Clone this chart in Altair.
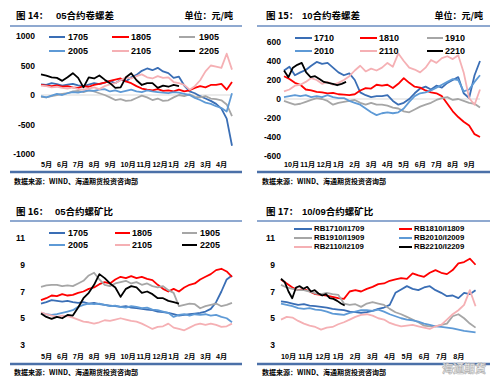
import altair as alt
import numpy as np
import pandas as pd

# ================= DATA =================
# Panel 14: 05合约卷螺差 (元/吨); x = months since start of 5月
P1_MONTHS = ["5月", "6月", "7月", "8月", "9月", "10月", "11月", "12月", "1月", "2月", "3月", "4月"]
P1_NAMES = ["1705", "1805", "1905", "2005", "2105", "2205"]
P1_1705 = [180, 170, 200, 185, 160, 175, 190, 165, 150, 175, 200, 185, 210, 240, 200, 260, 230, 300, 340, 410,
           450, 420, 460, 400, 370, 290, 310, 160, 60, 30, -20, -60, -100, -150, -230, -400, -860]
P1_1805 = [170, 160, 150, 165, 140, 150, 130, 120, 150, 140, 170, 190, 210, 240, 260, 280, 230, 200, 150, 110,
           90, 80, 100, 70, 80, 60, 90, 60, 80, 120, 150, 130, 170, 170, 190, 90, 220]
P1_1905 = [-30, -40, -20, 0, 20, 30, 60, 70, 50, 80, 60, 30, 0, -40, -85, -70, -100, -90, -50, -10,
           -40, -85, -60, -100, -90, -40, 0, -20, 10, -30, -40, -20, -60, -70, -90, -160, -360]
P1_2005 = [-20, -40, -10, 20, 0, 30, 50, 40, 60, 80, 70, 90, 100, 60, 80, 50, 70, 90, 60, 50,
           80, 60, 50, 40, 30, 50, 40, 20, 0, -50, -85, -130, -150, -190, -220, -280, 30]
P1_2105 = [160, 150, 130, 140, 120, 110, 130, 100, 90, 110, 130, 100, 150, 180, 200, 250, 300, 280, 320, 350,
           300, 280, 320, 290, 300, 220, 200, 170, 90, 150, 250, 400, 500, 480, 460, 700, 430]
P1_2205 = [350, 330, 300, 290, 240, 300, 370, 290, 130, 300, 280, 330, 260, 200, 120, 130, 300, 370, 250, 170,
           200, 200, 120, 160, 140, 170, 150]
P1_END = [12, 12, 12, 12, 12, 8.67]

# Panel 15: 10合约卷螺差 (元/吨); x = months since start of 10月
P2_MONTHS = ["10月", "11月", "12月", "1月", "2月", "3月", "4月", "5月", "6月", "7月", "8月", "9月"]
P2_NAMES = ["1710", "1810", "1910", "2010", "2110", "2210"]
P2_1710 = [300, 340, 250, 280, 305, 350, 390, 370, 380, 330, 280, 250, 270, 200, 70, 40, 20, 30, 30, 40,
           -20, -60, -40, 0, 60, 110, 130, 100, 140, 120, 170, 200, 230, 60, 10, 250, 400]
P2_1810 = [240, 210, 170, 150, 100, 90, 75, 70, 60, 65, 50, 45, 40, 50, 90, 115, 110, 150, 140, 150,
           115, 160, 220, 170, 130, 120, 90, 70, 60, 30, -50, -130, -190, -240, -280, -370, -400]
P2_1910 = [-20, -40, -60, -50, -30, -10, 10, 0, -20, -60, -40, -30, -20, -10, -40, -60, -40, -60, -60, -70,
           -90, -100, -130, -140, -110, -80, -60, -40, -10, 10, 20, -10, 0, -20, -40, -50, -90]
P2_2010 = [20, 30, 40, 30, 40, 20, 30, 20, 40, 20, 10, 10, -20, -40, -60, -100, -140, -170, -150, -140,
           -150, -140, -100, -30, 30, 60, 70, 90, 120, 150, 180, 210, 200, 80, 100, 180, 250]
P2_2110 = [80, 100, 140, 150, 180, 220, 200, 160, 180, 150, 170, 200, 240, 300, 350, 290, 320, 300, 330, 380,
           340, 480, 400, 330, 310, 280, 330, 410, 380, 430, 450, 420, 460, 280, 10, -60, 100]
P2_2210 = [300, 230, 330, 360, 380, 280, 230, 240, 210, 180, 170, 160, 145, 160, 180]
P2_END = [12, 12, 12, 12, 12, 3.8]

# Panel 16: 05合约螺矿比; x = months since start of 5月
P3_NAMES = ["1705", "1805", "1905", "2005", "2105", "2205"]
P3_1705 = [6.1, 6.2, 6.35, 6.3, 6.25, 6.3, 6.2, 6.15, 6.2, 6.1, 6.15, 6.05, 6.0, 5.95, 5.9, 5.85, 5.9, 5.8, 5.75, 5.7,
           5.65, 5.6, 5.5, 5.45, 5.4, 5.3, 5.2, 5.25, 5.3, 5.35, 5.4, 5.5, 5.7, 6.2, 7.0, 7.9, 8.2]
P3_1805 = [6.35, 6.5, 6.7, 6.65, 6.8, 6.7, 6.75, 6.9, 7.0, 7.2, 7.3, 7.55, 7.7, 7.6, 7.9, 8.1, 8.0, 8.15, 8.0, 8.1,
           7.95, 7.85, 7.5, 7.2, 7.0, 7.2, 7.0, 7.3, 7.5, 7.6, 7.9, 8.1, 8.3, 8.6, 8.7, 8.5, 8.1]
P3_1905 = [7.35, 7.45, 7.5, 7.5, 7.4, 7.45, 7.4, 7.6, 7.8, 8.2, 8.4, 7.9, 7.5, 7.4, 7.6, 7.7, 7.8, 7.6, 7.7, 7.5,
           7.6, 7.4, 7.3, 7.4, 7.1, 6.9, 5.9, 6.0, 6.1, 6.05, 5.75, 5.9, 6.0, 6.1, 5.9, 6.0, 6.15]
P3_2005 = [5.4, 5.3, 5.25, 5.3, 5.4, 5.5, 5.6, 5.85, 6.0, 6.1, 6.05, 6.1, 6.0, 5.9, 5.95, 5.85, 5.8, 5.9, 5.85, 5.75,
           5.8, 5.65, 5.6, 5.5, 5.4, 5.1, 5.25, 5.3, 5.2, 5.3, 5.25, 5.3, 5.2, 5.25, 5.1, 5.0, 4.7]
P3_2105 = [5.45, 5.3, 5.2, 5.1, 5.2, 5.15, 5.05, 4.9, 4.75, 4.7, 4.6, 4.7, 4.85, 4.8, 4.9, 5.0, 4.9, 4.8, 4.75, 4.6,
           4.4, 4.2, 4.35, 4.4, 4.6, 4.3, 4.2, 4.1, 4.3, 4.5, 4.6, 4.5, 4.6, 4.5, 4.35, 4.4, 4.6]
P3_2205 = [5.35, 5.1, 4.95, 5.1, 5.0, 5.25, 5.2, 5.8, 6.5, 6.9, 7.5, 8.3, 8.0, 7.6, 7.3, 6.6, 7.2, 7.4, 7.3, 6.9,
           7.0, 6.8, 6.5, 6.5, 6.3, 6.2, 6.1]
P3_END = [12, 12, 12, 12, 12, 8.67]

# Panel 17: 10/09合约螺矿比; x = months since start of 10月
P4_MONTHS = ["10月", "11月", "12月", "1月", "2月", "3月", "4月", "5月", "6月", "7月", "8月"]
P4_NAMES = ["RB1710/I1709", "RB1810/I1809", "RB1910/I1909", "RB2010/I2009", "RB2110/I2109", "RB2210/I2209"]
P4_1710 = [6.27, 6.2, 6.1, 6.0, 6.05, 5.95, 5.9, 5.85, 5.8, 5.7, 5.65, 5.6, 5.5, 5.45, 5.4, 5.45, 5.55, 5.7, 5.8, 6.0,
           6.9, 7.15, 7.4, 7.2, 7.1, 7.3, 7.4, 7.1, 6.9, 6.65, 6.7, 6.5, 6.9, 6.8, 7.1]
P4_1810 = [7.9, 7.6, 7.3, 7.1, 7.2, 7.0, 6.8, 6.75, 6.7, 6.6, 6.5, 6.45, 7.0, 7.1, 7.0, 7.2, 7.35, 7.55, 7.6, 7.8,
           7.9, 8.0, 7.95, 8.35, 8.2, 8.1, 8.4, 8.6, 8.4, 8.3, 8.6, 9.1, 9.2, 9.45, 9.0]
P4_1910 = [7.5, 7.3, 7.2, 7.1, 7.1, 7.0, 6.85, 6.8, 6.9, 6.8, 6.75, 6.1, 6.0, 6.05, 5.85, 6.1, 6.2, 6.1, 6.0, 5.7,
           5.45, 5.3, 5.1, 4.9, 4.7, 4.45, 4.4, 4.4, 4.5, 4.6, 5.15, 5.3, 5.0, 4.6, 4.3]
P4_2010 = [6.1, 6.0, 5.9, 5.75, 5.7, 5.75, 5.65, 5.6, 5.5, 5.35, 5.3, 5.25, 5.4, 5.5, 5.6, 5.6, 5.55, 5.65, 5.5, 5.3,
           5.15, 5.0, 4.9, 4.85, 4.75, 4.6, 4.5, 4.4, 4.35, 4.3, 4.25, 4.15, 4.05, 4.0, 3.95]
P4_2110 = [4.9, 5.1, 5.05, 4.8, 4.6, 4.45, 4.35, 4.15, 4.3, 4.35, 4.55, 4.7, 4.9, 5.1, 5.25, 5.3, 5.2, 5.0, 4.9, 4.65,
           4.5, 4.4, 4.45, 4.5, 4.4, 4.3, 4.2, 4.4, 4.5, 4.9, 5.3, 5.6, 6.0, 7.1, 5.9]
P4_2210 = [7.95, 7.7, 7.0, 6.5, 7.3, 7.4, 7.2, 7.35, 7.0, 7.1, 6.85, 6.7, 6.8, 6.5, 6.45, 6.3, 6.1, 5.95]
P4_END = [11.3, 11.3, 11.3, 11.3, 11.3, 3.7]

Y_TICKS_1 = [1000, 500, 0, -500, -1000]
Y_TICKS_2 = [600, 400, 200, 0, -200, -400, -600]
Y_TICKS_3 = [11, 9, 7, 5, 3]

SOURCE = "数据来源：WIND、海通期货投资咨询部"

# ================= STYLE / LAYOUT =================
COLORS = ["#3A6EB5", "#FF0000", "#A6A6A6", "#5E9AD6", "#F5B0B4", "#000000"]
FONT = "Liberation Sans, Arial, Noto Sans CJK SC"
CJK = "Noto Sans CJK SC"
HEAD_BLUE = "#6A8CC0"
FOOT_BLUE = "#4B70A8"

COLX = [8, 248]      # page x of each column's origin
ROWY = [8, 197]      # reference y mapped to each row's origin
W = 240
H = [186, 182]


def dummy():
    return pd.DataFrame({"d": [0]})


def text_at(ox, oy, x, y, s, size=9.0, align="left", font=FONT, weight="bold", color="black"):
    return alt.Chart(dummy()).mark_text(
        text=s, align=align, baseline="middle", fontSize=size, font=font,
        fontWeight=weight, color=color
    ).encode(x=alt.value(x - ox), y=alt.value(y - oy))


def hline(ox, oy, x0, x1, y, color, width):
    a = max(0, x0 - ox)
    b = min(W, x1 - ox)
    return alt.Chart(dummy()).mark_rule(color=color, strokeWidth=width).encode(
        x=alt.value(a), x2=alt.value(b), y=alt.value(y - oy))


def make_panel(col, row, cfg, extra=None):
    ox, oy = COLX[col], ROWY[row]
    xs = alt.Scale(domain=cfg["xdom"], range=[cfg["xr"][0] - ox, cfg["xr"][1] - ox], nice=False, zero=False)
    ys = alt.Scale(domain=cfg["ydom"], range=[cfg["yr"][0] - oy, cfg["yr"][1] - oy], nice=False, zero=False)
    layers = []

    # header
    layers.append(text_at(ox, oy, cfg["fig_x"], cfg["title_y"], cfg["fig"], size=9.5, font=CJK))
    layers.append(text_at(ox, oy, cfg["title_x"], cfg["title_y"], cfg["title"], size=9.5, font=FONT))
    if cfg.get("unit"):
        layers.append(text_at(ox, oy, cfg["unit_x"], cfg["title_y"], cfg["unit"], size=9, align="right", font=CJK))
    layers.append(hline(ox, oy, cfg["line_x"][0], cfg["line_x"][1], cfg["head_y"], HEAD_BLUE, 1.5))
    layers.append(hline(ox, oy, cfg["line_x"][0], cfg["line_x"][1], cfg["foot_y"], FOOT_BLUE, 2.5))
    layers.append(text_at(ox, oy, cfg["src_x"], cfg["src_y"], SOURCE, size=7, font=CJK))

    # zero line
    if cfg.get("zero"):
        zdf = pd.DataFrame({"z": [0]})
        layers.append(alt.Chart(zdf).mark_rule(color="#D9D9D9", strokeWidth=1).encode(
            y=alt.Y("z:Q", scale=ys, axis=None),
            x=alt.value(cfg["xr"][0] - ox), x2=alt.value(cfg["xr"][1] - ox)))

    # y labels
    ydf = pd.DataFrame({"t": cfg["yticks"], "lab": [str(t) for t in cfg["yticks"]]})
    layers.append(alt.Chart(ydf).mark_text(align="right", baseline="middle", fontSize=8.5,
                                           fontWeight="bold", font=FONT, color="black").encode(
        y=alt.Y("t:Q", scale=ys, axis=None), x=alt.value(cfg["ylab_x"] - ox), text="lab:N"))

    # x labels
    xdf = pd.DataFrame({"i": list(range(len(cfg["months"]))), "lab": cfg["months"]})
    layers.append(alt.Chart(xdf).mark_text(align="left", baseline="middle", fontSize=7.2,
                                           fontWeight="bold", font=FONT, color="black").encode(
        x=alt.X("i:Q", scale=xs, axis=None), y=alt.value(cfg["xlab_y"] - oy), text="lab:N"))

    # series
    for vals, end, color in zip(cfg["series"], cfg["ends"], COLORS):
        df = pd.DataFrame({"m": np.linspace(0, end, len(vals)), "v": vals})
        layers.append(alt.Chart(df).mark_line(color=color, strokeWidth=1.8, strokeJoin="round").encode(
            x=alt.X("m:Q", scale=xs, axis=None), y=alt.Y("v:Q", scale=ys, axis=None)))

    # legend
    for k, name in enumerate(cfg["names"]):
        r, c = divmod(k, cfg["legend_cols"])
        ly = cfg["leg_rows"][r]
        lx0, lx1 = cfg["leg_lines"][c]
        layers.append(alt.Chart(dummy()).mark_rule(color=COLORS[k], strokeWidth=2).encode(
            x=alt.value(lx0 - ox), x2=alt.value(lx1 - ox), y=alt.value(ly - oy)))
        layers.append(text_at(ox, oy, cfg["leg_text"][c], ly, name, size=cfg["leg_size"]))

    if extra:
        layers.extend(extra(ox, oy))

    return alt.layer(*layers).properties(width=W, height=H[row])


def watermark(ox, oy):
    return [alt.Chart(dummy()).mark_text(
        text="海通期货", align="center", baseline="middle", fontSize=11, font=CJK, fontWeight="bold",
        color="#FFFFFF", stroke="#B5B5B5", strokeWidth=0.7
    ).encode(x=alt.value(462 - ox), y=alt.value(373 - oy))]


p1 = make_panel(0, 0, dict(
    xdom=[0, 12], xr=[39, 230], ydom=[-1000, 1000], yr=[154, 36],
    fig="图 14：", fig_x=14, title="05合约卷螺差", title_x=54, title_y=16,
    unit="单位：元/吨", unit_x=231, line_x=[5, 240], head_y=26, foot_y=172,
    src_x=12, src_y=182, zero=True, yticks=Y_TICKS_1, ylab_x=33,
    months=P1_MONTHS, xlab_y=165,
    series=[P1_1705, P1_1805, P1_1905, P1_2005, P1_2105, P1_2205], ends=P1_END,
    names=P1_NAMES, legend_cols=3, leg_rows=[37, 51],
    leg_lines=[(47, 63), (110, 127), (177, 193)], leg_text=[66, 129, 197], leg_size=9))

p2 = make_panel(1, 0, dict(
    xdom=[0, 12], xr=[282, 478], ydom=[-600, 600], yr=[156, 42],
    fig="图 15：", fig_x=264, title="10合约卷螺差", title_x=300, title_y=16,
    unit="单位：元/吨", unit_x=481, line_x=[255, 490], head_y=26, foot_y=172,
    src_x=260, src_y=182, zero=True, yticks=Y_TICKS_2, ylab_x=279,
    months=P2_MONTHS, xlab_y=165,
    series=[P2_1710, P2_1810, P2_1910, P2_2010, P2_2110, P2_2210], ends=P2_END,
    names=P2_NAMES, legend_cols=3, leg_rows=[38, 51],
    leg_lines=[(293, 310), (358, 375), (425, 441)], leg_text=[312, 377, 443], leg_size=9))

p3 = make_panel(0, 1, dict(
    xdom=[0, 12], xr=[39, 230], ydom=[3, 11], yr=[348, 241],
    fig="图 16：", fig_x=14, title="05合约螺矿比", title_x=53, title_y=215,
    unit=None, line_x=[5, 240], head_y=224, foot_y=367,
    src_x=12, src_y=376, zero=False, yticks=Y_TICKS_3, ylab_x=23,
    months=P1_MONTHS, xlab_y=360,
    series=[P3_1705, P3_1805, P3_1905, P3_2005, P3_2105, P3_2205], ends=P3_END,
    names=P3_NAMES, legend_cols=3, leg_rows=[236, 248],
    leg_lines=[(47, 63), (113, 128), (180, 195)], leg_text=[66, 130, 198], leg_size=9))

p4 = make_panel(1, 1, dict(
    xdom=[0, 11.5], xr=[279, 477], ydom=[3, 11], yr=[348, 241],
    fig="图 17：", fig_x=264, title="10/09合约螺矿比", title_x=300, title_y=215,
    unit=None, line_x=[255, 490], head_y=224, foot_y=367,
    src_x=260, src_y=376, zero=False, yticks=Y_TICKS_3, ylab_x=273,
    months=P4_MONTHS, xlab_y=360,
    series=[P4_1710, P4_1810, P4_1910, P4_2010, P4_2110, P4_2210], ends=P4_END,
    names=P4_NAMES, legend_cols=2, leg_rows=[232, 241, 250],
    leg_lines=[(292, 310), (397, 410)], leg_text=[312, 412], leg_size=7.8), extra=watermark)

chart = alt.concat(p1, p2, p3, p4, columns=2, spacing=0, bounds="flush").properties(
    padding=0, background="white").configure_view(stroke=None)

chart.save("out.html", embed_options={"renderer": "svg", "actions": False})
